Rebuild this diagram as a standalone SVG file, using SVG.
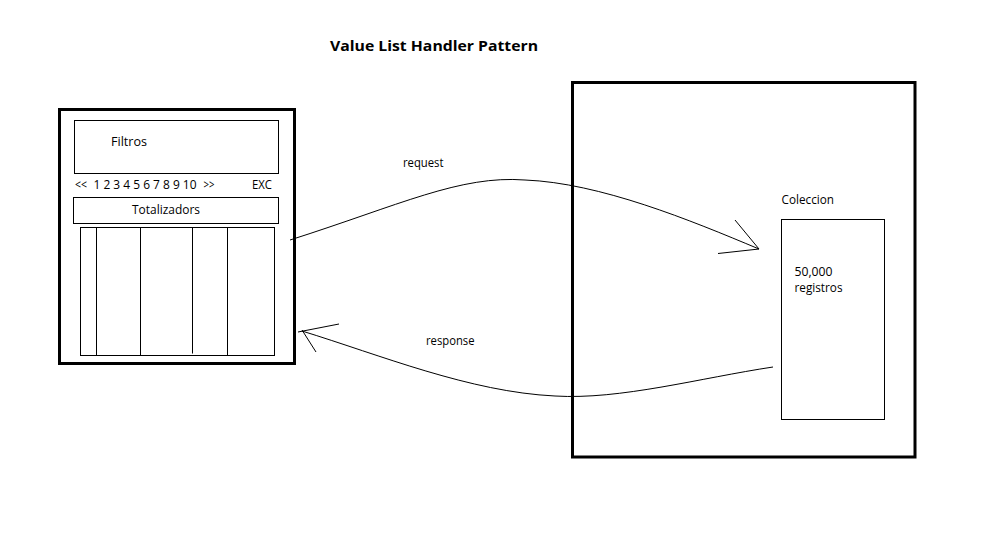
<svg xmlns="http://www.w3.org/2000/svg" width="1008" height="536" viewBox="0 0 1008 536">
<style>
.thick{fill:none;stroke:#000;stroke-width:3}
.thin{fill:none;stroke:#000;stroke-width:1}
.t{font-family:"Open Sans","Noto Sans","DejaVu Sans",sans-serif;font-size:12px;fill:#000}
.title{font-family:"Open Sans","Noto Sans","DejaVu Sans",sans-serif;font-size:15px;font-weight:bold;fill:#000}
</style>
<rect width="1008" height="536" fill="#fff"/>
<text class="title" x="330" y="51" textLength="208" lengthAdjust="spacingAndGlyphs">Value List Handler Pattern</text>
<g id="client">
<rect class="thick" x="59.5" y="109.5" width="235" height="254"/>
<g id="filtros">
<rect class="thin" x="74.5" y="120.5" width="204" height="53"/>
<text class="t" x="111" y="146" textLength="36" lengthAdjust="spacingAndGlyphs">Filtros</text>
</g>
<g id="paginacion">
<text class="t" x="75" y="189" textLength="12" lengthAdjust="spacingAndGlyphs">&lt;&lt;</text>
<text class="t" x="93.5" y="189" textLength="103" lengthAdjust="spacingAndGlyphs">1 2 3 4 5 6 7 8 9 10</text>
<text class="t" x="203.5" y="189" textLength="11" lengthAdjust="spacingAndGlyphs">&gt;&gt;</text>
<text class="t" x="252" y="189" textLength="20" lengthAdjust="spacingAndGlyphs">EXC</text>
</g>
<g id="totalizadors">
<rect class="thin" x="73.5" y="197.5" width="205" height="26"/>
<text class="t" x="132" y="214" textLength="68" lengthAdjust="spacingAndGlyphs">Totalizadors</text>
</g>
<g id="tabla">
<rect class="thin" x="80.5" y="227.5" width="194" height="128"/>
<line class="thin" x1="96.5" y1="227.5" x2="96.5" y2="355.5"/>
<line class="thin" x1="140.5" y1="227.5" x2="140.5" y2="355.5"/>
<line class="thin" x1="192.5" y1="227.5" x2="192.5" y2="353.5"/>
<line class="thin" x1="227.5" y1="227.5" x2="227.5" y2="355.5"/>
</g>
</g>
<g id="server">
<rect class="thick" x="572.5" y="82.5" width="342.5" height="374.5"/>
<text class="t" x="781.5" y="204" textLength="52.5" lengthAdjust="spacingAndGlyphs">Coleccion</text>
<g id="coleccion">
<rect class="thin" x="781.5" y="219.5" width="103" height="200"/>
<text class="t" x="794.5" y="276" textLength="38" lengthAdjust="spacingAndGlyphs">50,000</text>
<text class="t" x="794.5" y="292" textLength="48" lengthAdjust="spacingAndGlyphs">registros</text>
</g>
</g>
<g id="connectors">
<path class="thin" d="M290,240 C400,205 460,175 525,180 C600,183 690,220 759,249"/>
<path class="thin" d="M735,220 L759,249 L718,253.5"/>
<text class="t" x="403" y="167" textLength="40.5" lengthAdjust="spacingAndGlyphs">request</text>
<path class="thin" d="M773,367 C700,378 620,400 555,396 C470,392 380,355 302,331"/>
<path class="thin" d="M339,324 L298,332 M302,330 L316,352"/>
<text class="t" x="426" y="345" textLength="48.5" lengthAdjust="spacingAndGlyphs">response</text>
</g>
</svg>
